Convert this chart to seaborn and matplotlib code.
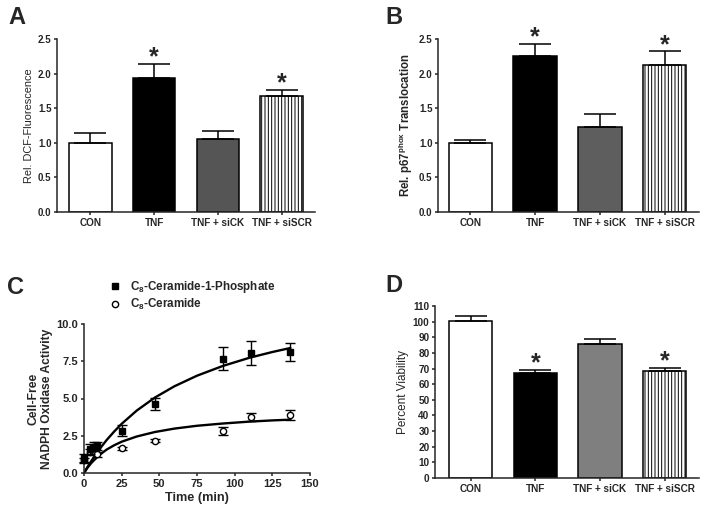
import matplotlib
matplotlib.use("Agg")
import matplotlib.pyplot as plt
import numpy as np
import pandas as pd
import seaborn as sns

# --- data ---
groups = ["CON", "TNF", "TNF + siCK", "TNF + siSCR"]

dcf_mean = [1.00, 1.94, 1.05, 1.68]
dcf_sem = [0.14, 0.20, 0.12, 0.08]
dcf_sig = [False, True, False, True]

p67_mean = [1.00, 2.26, 1.23, 2.13]
p67_sem = [0.04, 0.17, 0.19, 0.19]
p67_sig = [False, True, False, True]

via_mean = [100.3, 67.3, 85.5, 68.4]
via_sem = [3.3, 1.8, 3.5, 2.2]
via_sig = [False, True, False, True]

# panel C : time course
c1p_t = [0, 4, 6.5, 8.5, 25, 47, 92, 111, 136.5]
c1p_y = [1.00, 1.60, 1.75, 1.82, 2.85, 4.65, 7.68, 8.07, 8.10]
c1p_e = [0.25, 0.35, 0.30, 0.25, 0.40, 0.40, 0.78, 0.80, 0.60]
cer_t = [0, 4, 6.5, 8.5, 25, 47, 92, 111, 136.5]
cer_y = [0.85, 1.40, 1.45, 1.25, 1.65, 2.15, 2.84, 3.76, 3.88]
cer_e = [0.15, 0.20, 0.20, 0.15, 0.10, 0.10, 0.28, 0.27, 0.35]

# fitted curves
fit_t = [0, 2, 5, 10, 15, 20, 25, 35, 47, 60, 75, 92, 110, 125, 137]
fit_c1p = [0, 0.35, 0.83, 1.56, 2.21, 2.78, 3.30, 4.19, 5.06, 5.82, 6.53, 7.18, 7.74, 8.12, 8.39]
fit_cer = [0, 0.31, 0.69, 1.19, 1.57, 1.86, 2.10, 2.45, 2.75, 2.98, 3.17, 3.32, 3.45, 3.53, 3.58]

sns.set_theme(style="ticks")
plt.rcParams["font.family"] = ["Liberation Sans", "DejaVu Sans"]
plt.rcParams["mathtext.fontset"] = "custom"
plt.rcParams["mathtext.rm"] = "Liberation Sans"
plt.rcParams["mathtext.bf"] = "Liberation Sans:bold"
plt.rcParams["hatch.linewidth"] = 0.7
plt.rcParams["axes.linewidth"] = 1.1
plt.rcParams["xtick.major.width"] = 1.1
plt.rcParams["ytick.major.width"] = 1.1
plt.rcParams["xtick.major.size"] = 2.5
plt.rcParams["ytick.major.size"] = 2.5
plt.rcParams["xtick.major.pad"] = 2
plt.rcParams["ytick.major.pad"] = 1.5

W, H = 704, 516
fig = plt.figure(figsize=(W / 100, H / 100), dpi=100)


def px_axes(l, t, r, b):
    return fig.add_axes([l / W, 1 - b / H, (r - l) / W, (b - t) / H])


def bar_panel(ax, means, sems, sig, grey, ylim, yticks, ylabel, yweight, ysize, ytick_size, xlim):
    df = pd.DataFrame({"group": groups, "value": means})
    colors = ["white", "black", grey, "white"]
    sns.barplot(data=df, x="group", y="value", hue="group", palette=colors,
                legend=False, width=0.67, edgecolor="black", linewidth=1.1,
                errorbar=None, ax=ax, zorder=2)
    ax.patches[3].set_hatch("|||||")
    x = np.arange(len(groups))
    ax.errorbar(x, means, yerr=[np.zeros(len(means)), sems], fmt="none",
                ecolor="black", elinewidth=1.1, capsize=11.5, capthick=1.1, zorder=3)
    for xi, m, s, flag in zip(x, means, sems, sig):
        if flag:
            ax.annotate("*", (xi, m + s), xytext=(0, -4), textcoords="offset points",
                        ha="center", va="bottom", fontsize=18, fontweight="bold",
                        annotation_clip=False)
    ax.set_xlim(*xlim)
    ax.set_ylim(*ylim)
    ax.set_yticks(yticks)
    ax.set_xlabel("")
    ax.set_ylabel(ylabel, fontsize=ysize, fontweight=yweight, labelpad=3)
    ax.tick_params(axis="y", labelsize=ytick_size, direction="out")
    ax.tick_params(axis="x", labelsize=7.2, direction="out")
    for lab in ax.get_xticklabels() + ax.get_yticklabels():
        lab.set_fontweight("bold")
    sns.despine(ax=ax)


# Panel A
axA = px_axes(57, 39, 315, 212)
bar_panel(axA, dcf_mean, dcf_sem, dcf_sig, "#555555", (0, 2.5),
          np.arange(0, 2.51, 0.5), "Rel. DCF-Fluorescence", "normal", 7.9, 7,
          (-0.52, 3.52))
axA.yaxis.set_major_formatter(matplotlib.ticker.FormatStrFormatter("%.1f"))

# Panel B
axB = px_axes(438, 39, 699, 212)
bar_panel(axB, p67_mean, p67_sem, p67_sig, "#5e5e5e", (0, 2.5),
          np.arange(0, 2.51, 0.5), r"Rel. p67$^{\mathbf{phox}}$ Translocation", "bold", 8.3,
          7, (-0.5, 3.53))
axB.yaxis.set_major_formatter(matplotlib.ticker.FormatStrFormatter("%.1f"))

# Panel D
axD = px_axes(435, 306, 699, 478)
bar_panel(axD, via_mean, via_sem, via_sig, "#7f7f7f", (0, 110),
          np.arange(0, 111, 10), "Percent Viability", "normal", 8.5, 7.2, (-0.55, 3.53))

# Panel C
axC = px_axes(84, 324, 310, 473)
sns.lineplot(x=fit_t, y=fit_c1p, color="black", linewidth=1.7, ax=axC, zorder=2)
sns.lineplot(x=fit_t, y=fit_cer, color="black", linewidth=1.7, ax=axC, zorder=2)
axC.errorbar(c1p_t, c1p_y, yerr=c1p_e, fmt="s", color="black", ms=5,
             elinewidth=1.0, capsize=3.5, capthick=1.0, zorder=4, clip_on=False,
             label=r"C$_\mathbf{8}$-Ceramide-1-Phosphate")
axC.errorbar(cer_t, cer_y, yerr=cer_e, fmt="o", color="black", mfc="white",
             mec="black", mew=1.0, ms=4.5, elinewidth=1.0, capsize=3.5,
             capthick=1.0, zorder=3, clip_on=False, label=r"C$_\mathbf{8}$-Ceramide")
axC.set_xlim(0, 150)
axC.set_ylim(0, 10)
axC.set_xticks(np.arange(0, 151, 25))
axC.set_yticks(np.arange(0, 10.1, 2.5))
axC.yaxis.set_major_formatter(matplotlib.ticker.FormatStrFormatter("%.1f"))
axC.tick_params(axis="both", labelsize=8, direction="out")
for lab in axC.get_xticklabels() + axC.get_yticklabels():
    lab.set_fontweight("bold")
axC.set_xlabel("Time (min)", fontsize=9.2, fontweight="bold", labelpad=2)
axC.set_ylabel("Cell-Free\nNADPH Oxidase Activity", fontsize=8.7,
               fontweight="bold", labelpad=3, linespacing=1.1)
sns.despine(ax=axC)
handles, labels = axC.get_legend_handles_labels()
handles = [h[0] for h in handles]
axC.legend(handles, labels, loc="lower left", bbox_to_anchor=(0.09, 1.05),
           frameon=False, handlelength=1.0, handletextpad=0.8,
           labelspacing=0.15, borderaxespad=0,
           prop={"weight": "bold", "size": 8.4})

# panel letters
for letter, (px, py) in {"A": (8, 17), "B": (385, 17), "C": (7, 287), "D": (385, 285)}.items():
    fig.text(px / W, 1 - py / H, letter, fontsize=17, fontweight="bold",
             ha="left", va="center")

fig.savefig("out.png", dpi=100, facecolor="white")
